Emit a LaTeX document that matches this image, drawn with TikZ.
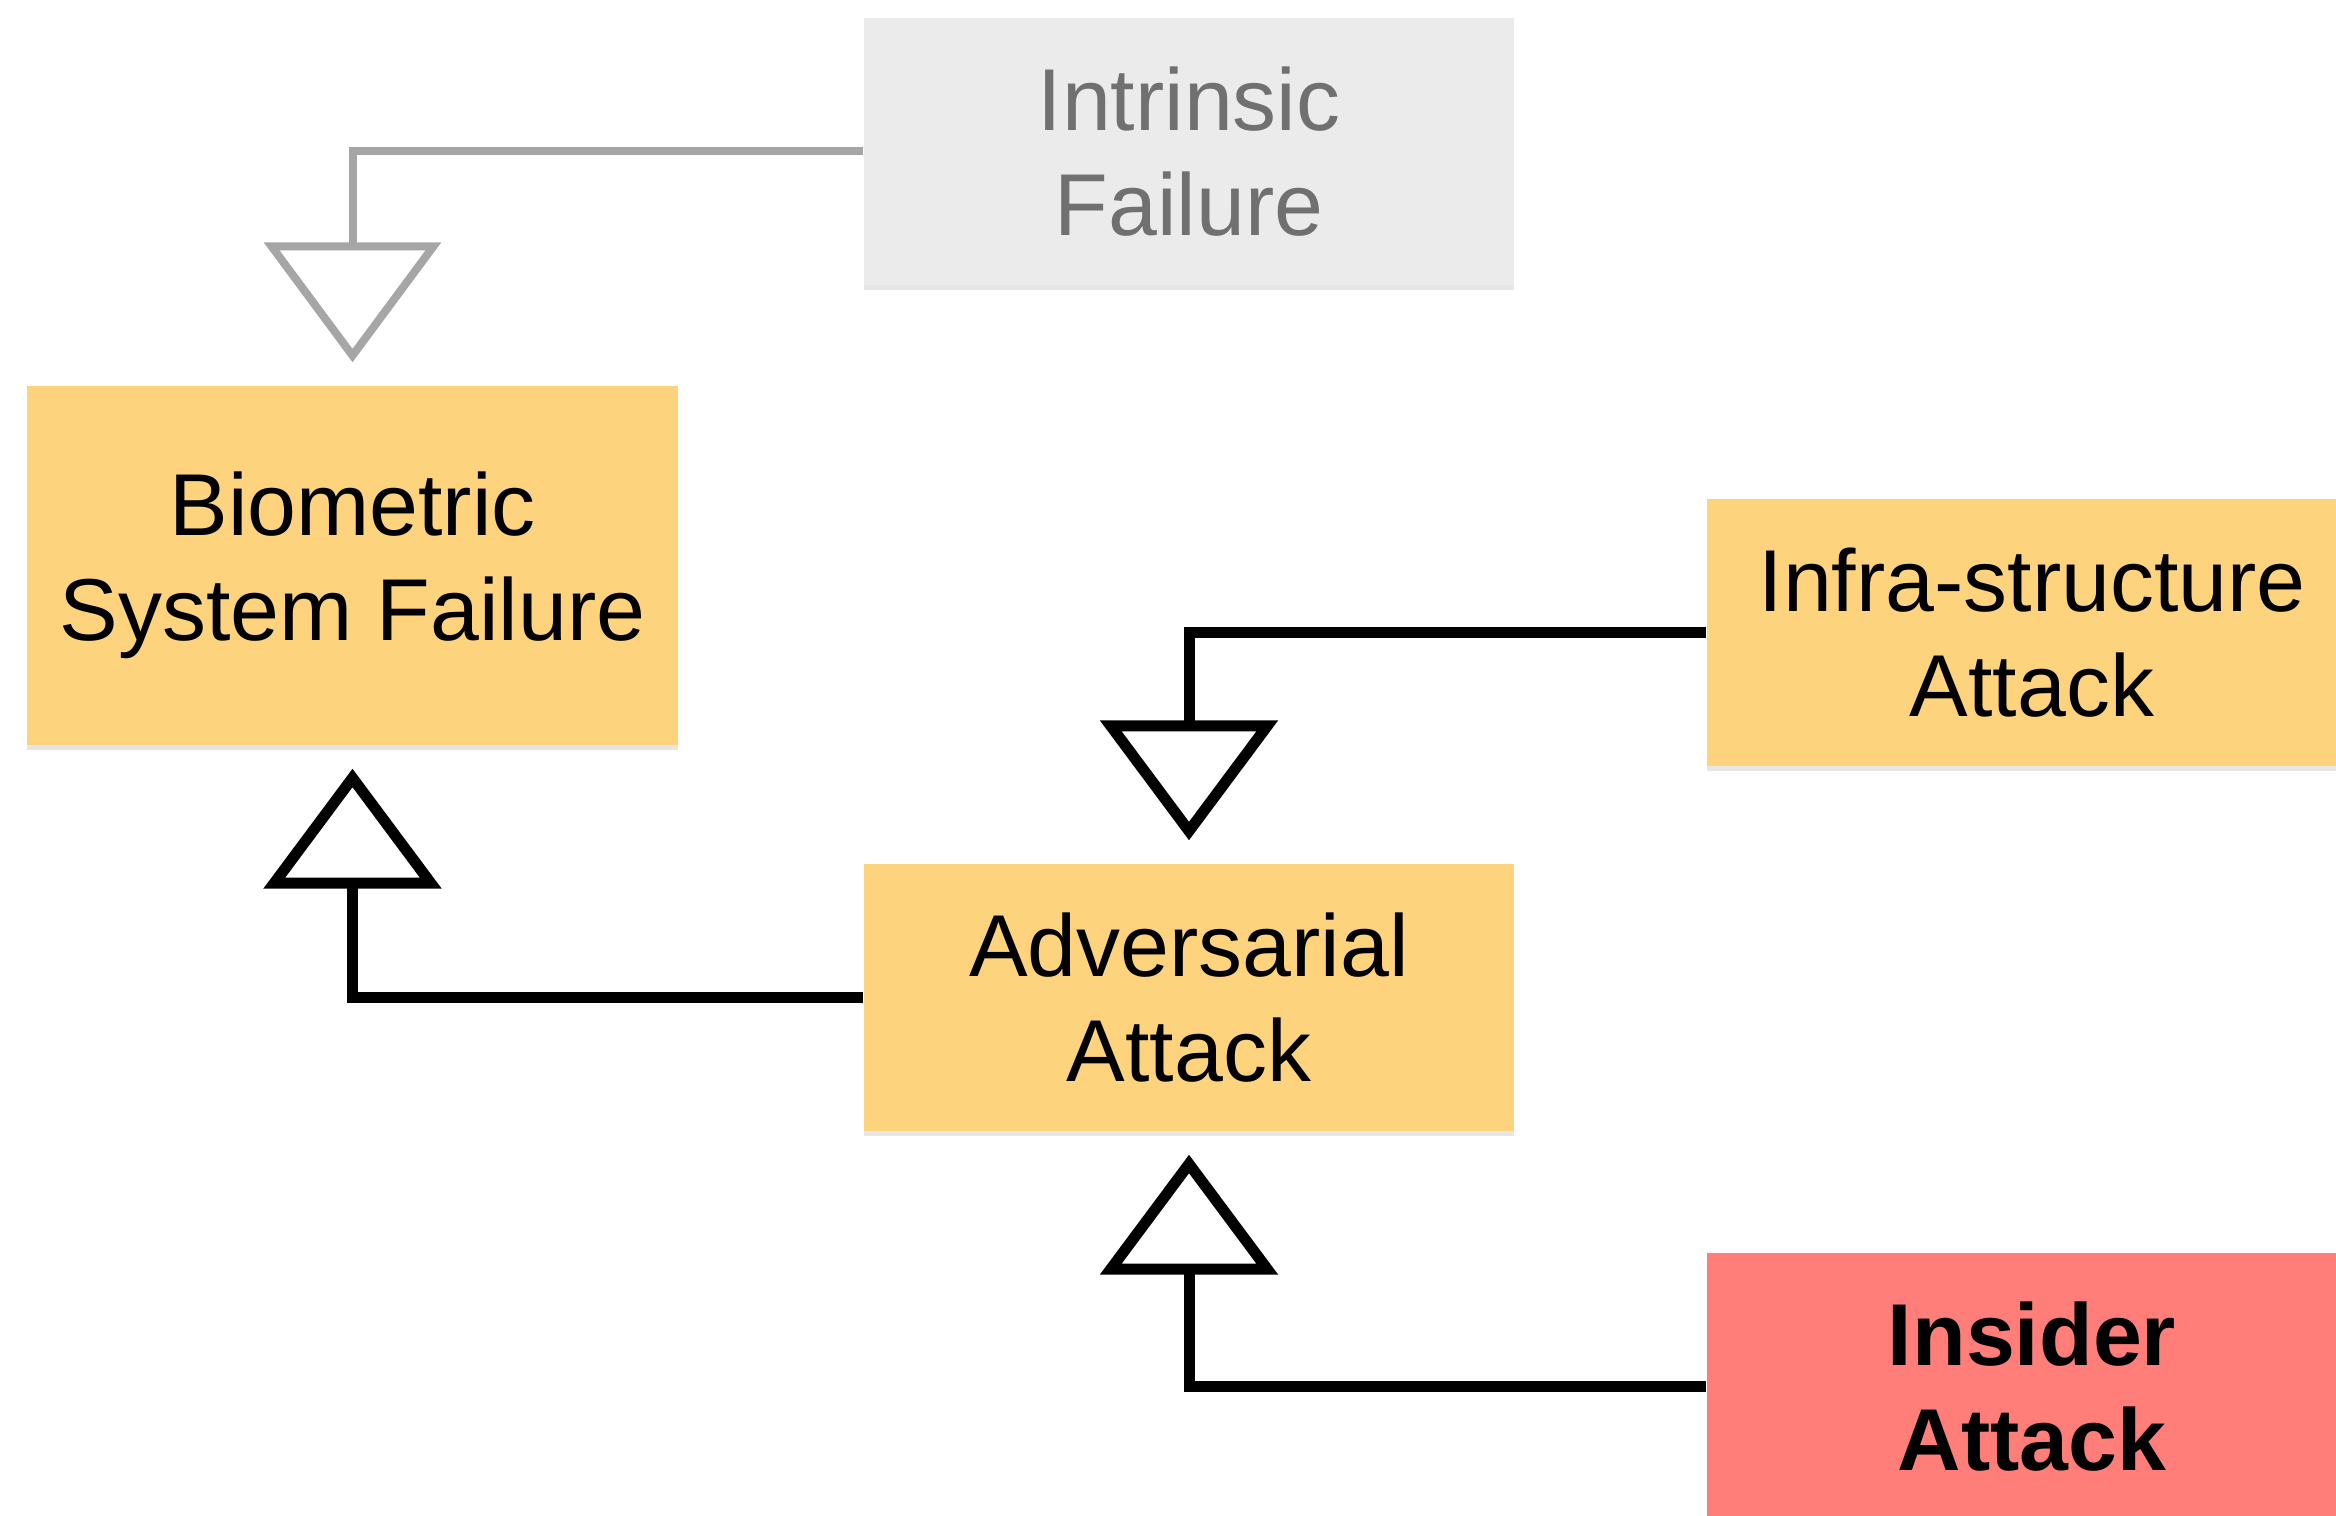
\documentclass[tikz,border=0pt]{standalone}
\usepackage{fontspec}
\setmainfont{Liberation Sans}
\usetikzlibrary{arrows.meta,shadows}
\definecolor{boxyellow}{HTML}{FDD37E}
\definecolor{boxred}{HTML}{FF7E79}
\definecolor{boxgrey}{HTML}{EBEBEB}
\definecolor{txtgrey}{HTML}{707070}
\definecolor{wiregrey}{HTML}{A6A6A6}

\begin{document}
\begin{tikzpicture}[
  x=1cm,y=1cm,
  line cap=butt,line join=miter,
  box/.style={draw=none,minimum width=6.5cm,minimum height=2.67cm,
    inner sep=0pt,align=center,font=\fontsize{25}{30}\selectfont,
    drop shadow={shadow xshift=0pt,shadow yshift=-0.05cm,opacity=0.2}},
  hollow/.tip={Triangle[open,fill=white,length=1.2cm,width=1.76cm]},
  gen/.style={draw=black,line width=0.11cm,-hollow,shorten >=0.23cm},
  gengrey/.style={gen,draw=wiregrey,line width=0.08cm}
]
\useasboundingbox (0,0) rectangle (23.36,-15.16);

% Failure classes, top to bottom.
\node[box,fill=boxgrey,text=txtgrey] (intr) at (11.89,-1.515) {Intrinsic\\Failure};
\node[box,fill=boxyellow,minimum height=3.59cm] (bio) at (3.525,-5.655) {Biometric\\System Failure};
\node[box,fill=boxyellow] (infra) at (20.32,-6.325) {Infra-structure\\Attack};
\node[box,fill=boxyellow] (adv) at (11.89,-9.975) {Adversarial\\Attack};
\node[box,fill=boxred,font=\fontsize{25}{30}\selectfont\bfseries] (ins) at (20.32,-13.865) {Insider\\Attack};

% Generalisation links, hollow heads on the parent side.
\draw[gengrey] (intr.west) -| (bio.north);
\draw[gen] (adv.west) -| (bio.south);
\draw[gen] (infra.west) -| (adv.north);
\draw[gen] (ins.west) -| (adv.south);

\end{tikzpicture}
\end{document}
